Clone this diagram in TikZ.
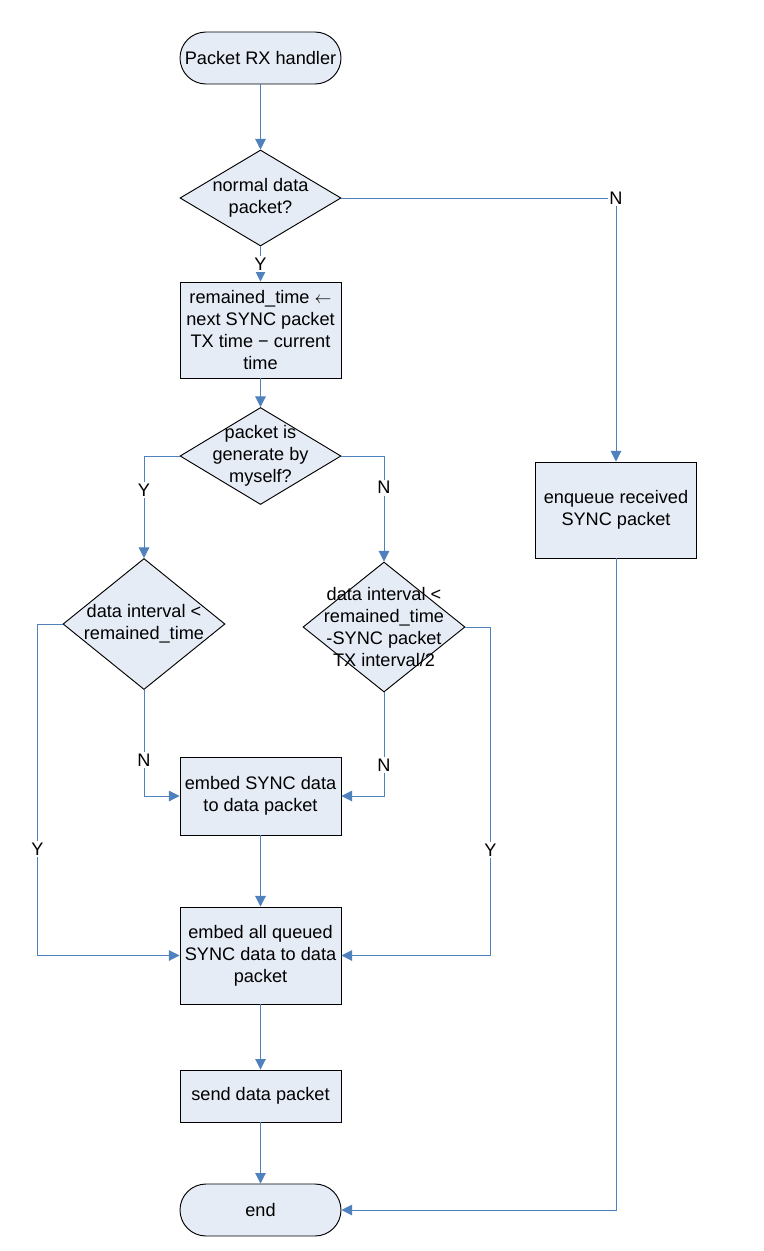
\documentclass[tikz,border=0pt]{standalone}
\usepackage{fontspec}
\setmainfont{Liberation Sans}
\usetikzlibrary{shapes.geometric,
				arrows.meta}

\definecolor{boxfill}{RGB}{230,236,246}
\definecolor{linkblue}{RGB}{79,129,189}

\tikzset{
	every node/.style={font=\fontsize{15.5}{18.8}\selectfont},
	process/.style={draw=black, fill=boxfill, line width=0.8pt, align=center, minimum width=4.83cm, inner sep=1pt},
	decision/.style={draw=black, fill=boxfill, line width=0.8pt, diamond, minimum width=4.83cm, inner sep=0pt},
	terminal/.style={draw=black, fill=boxfill, line width=0.8pt, rectangle, rounded corners=0.78cm, minimum width=4.83cm, minimum height=1.56cm},
	flow/.style={draw=linkblue, line width=0.8pt, -{Triangle[length=9pt,width=9pt]}},
	yn/.style={fill=white, inner sep=1.5pt, text=black}
}

\begin{document}
\begin{tikzpicture}[x=0.03cm, y=-0.03cm]

\useasboundingbox (0,0) rectangle (764,1251);

\node[terminal] (start) at (260.5,58) {Packet RX handler};
\node[decision, minimum height=2.88cm, label={[align=center]center:normal data\\packet?}] (isdata) at (260.5,198) {};
\node[process, minimum height=2.88cm] (remain) at (260.5,330) {remained\_time $\leftarrow$\\next SYNC packet\\TX time − current\\time};
\node[decision, minimum height=2.91cm, label={[align=center]center:packet is\\generate by\\myself?}] (ismine) at (260.5,456) {};
\node[decision, minimum width=4.86cm, minimum height=3.93cm, label={[align=center]center:data interval <\\remained\_time}] (mycheck) at (144,624) {};
\node[decision, minimum width=4.86cm, minimum height=3.9cm, label={[align=center]center:data interval <\\remained\_time\\-SYNC packet\\TX interval/2}] (othercheck) at (384,627) {};
\node[process, minimum height=2.88cm] (enqueue) at (616,510) {enqueue received\\SYNC packet};
\node[process, minimum height=2.34cm] (embedsync) at (260.5,796) {embed SYNC data\\to data packet};
\node[process, minimum height=2.91cm] (embedall) at (260.5,955.5) {embed all queued\\SYNC data to data\\packet};
\node[process, minimum height=1.56cm] (send) at (260.5,1096) {send data packet};
\node[terminal] (end) at (260.5,1210) {end};

\draw[flow] (start) -- (isdata);
\draw[flow] (isdata) -- node[yn] {Y} (remain);
\draw[flow] (isdata.east) -| node[yn] {N} (enqueue);
\draw[flow] (remain) -- (ismine);
\draw[flow] (ismine.west) -| node[yn, pos=0.667] {Y} (mycheck.north);
\draw[flow] (ismine.east) -| node[yn, pos=0.65] {N} (othercheck.north);
\draw[flow] (mycheck.south) |- node[yn, pos=0.33] {N} (embedsync.west);
\draw[flow] (othercheck.south) |- node[yn, pos=0.35] {N} (embedsync.east);
\draw[flow] (mycheck.west) -- ++(-25,0) |- node[yn, pos=0.34] {Y} (embedall.west);
\draw[flow] (othercheck.east) -- ++(25,0) |- node[yn, pos=0.34] {Y} (embedall.east);
\draw[flow] (embedsync) -- (embedall);
\draw[flow] (embedall) -- (send);
\draw[flow] (send) -- (end);
\draw[flow] (enqueue) |- (end.east);

\end{tikzpicture}
\end{document}
